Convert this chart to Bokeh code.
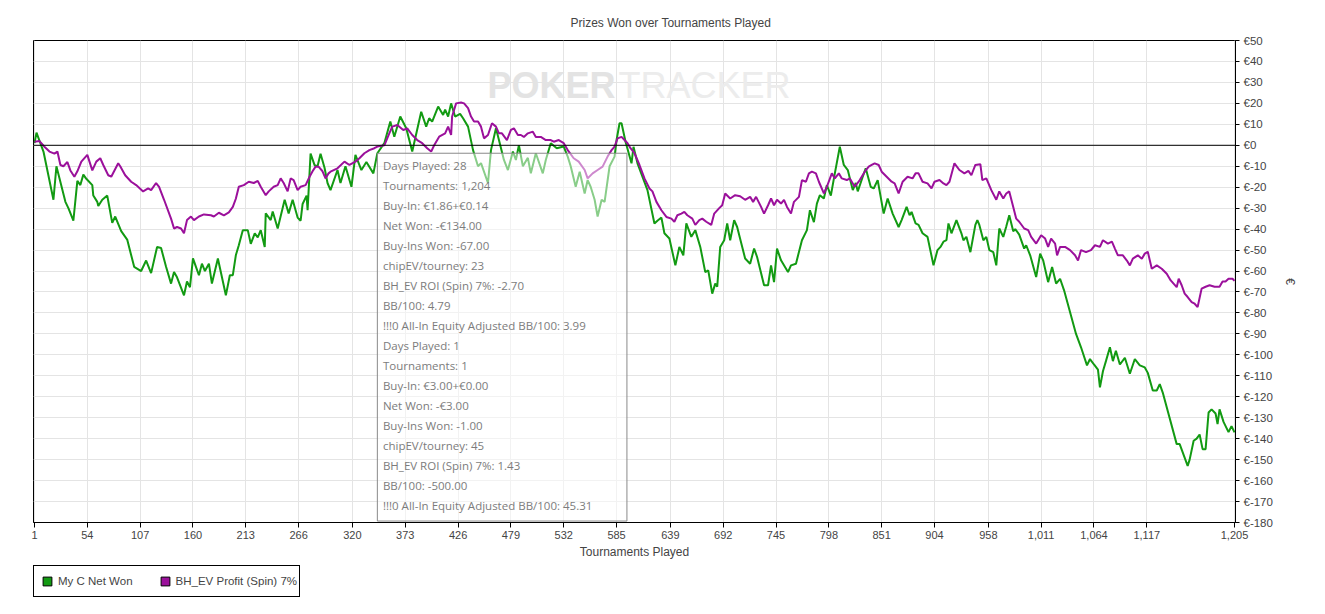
from bokeh.plotting import figure
from bokeh.layouts import column
from bokeh.models import (Range1d, FixedTicker, Span, BoxAnnotation, Label,
                          Legend, LegendItem)
from bokeh.embed import file_html
from bokeh.resources import INLINE

# ---------------- data ----------------
green_t = [1, 3, 10, 20, 23, 32, 35, 40, 44, 47, 50, 53, 59, 60, 64, 65, 69, 74, 79, 82,
           88, 94, 101, 108, 113, 118, 124, 128, 133, 138, 141, 144, 151, 154, 157, 160,
           163, 166, 169, 172, 176, 179, 185, 193, 197, 200, 203, 206, 210, 215, 218, 222,
           225, 228, 232, 233, 238, 240, 245, 252, 256, 260, 265, 268, 270, 274, 275, 278,
           282, 285, 288, 292, 295,
           298, 305, 308, 313, 319, 323, 329, 334, 341, 345, 352, 358, 362, 368, 374, 380,
           389, 394, 397, 400, 406, 411, 413, 416, 419, 423, 428, 431, 436, 441, 446, 449,
           456, 459, 464, 467, 472, 476, 481, 484, 487, 491, 496, 499, 504, 511, 514, 519,
           525, 532, 536, 539, 544, 548, 553, 556, 559, 563, 566, 570, 573, 578, 583, 585,
           588, 590,
           594, 600, 602, 606, 616, 623, 626, 630, 633, 638, 644, 648, 652, 655, 660, 664,
           669, 674, 677, 681, 684, 686, 689, 693, 696, 699, 703, 706, 714, 719, 723, 726,
           733, 737, 740, 743, 746, 750, 757, 760, 765, 771, 776, 779, 783, 786, 789, 793,
           796, 800, 804, 809, 813, 817, 822, 825, 827, 832, 835, 840, 843, 847, 853, 857,
           862, 868, 871, 876, 879, 881, 885, 888, 892, 897,
           903, 907, 910, 913, 916, 918, 921, 926, 931, 933, 936, 940, 945, 947, 949, 953,
           956, 959, 963, 966, 969, 973, 976, 979, 983, 985, 989, 994, 996, 1000, 1006,
           1010, 1013, 1018, 1022, 1026, 1030, 1034, 1046, 1051, 1057, 1060, 1064, 1068,
           1070, 1073, 1076, 1080, 1083, 1086, 1090, 1095, 1100, 1105, 1110, 1115, 1118,
           1123, 1127, 1130, 1133, 1147, 1150, 1158, 1160, 1164, 1167, 1170, 1173, 1176,
           1179, 1182, 1186, 1188, 1190, 1194, 1199, 1202, 1205]
green_v = [1, 6, -3, -26, -10, -27, -30, -36, -17, -19, -14, -16, -19, -24, -27, -29, -26, -24, -37, -34,
           -41, -45, -58, -60, -55, -61, -48.5, -49, -58, -66, -60.5, -63, -71.6, -65, -67.7, -54,
           -58, -62, -56.5, -60, -56.5, -66, -54, -71.6, -62, -62, -52.5, -47.7, -40.5, -40.5, -47, -42,
           -44, -40.5, -48.5, -32.5, -35.7, -31.6, -39.7, -26, -32.5, -26, -34.5, -36, -28, -24, -31, -4,
           -9.5, -10, -4, -10.7, -18,
           -21.4, -11.8, -18, -10, -19.8, -4.6, -11.8, -8, -13.4, -3.8, 1, 11.3, 4.1, 13.7, 8.1, -3,
           16, 8.9, 12.9, 11.3, 18.5, 14.5, 17, 13.7, 20, 13.7, 15, 12.9, 8.9, -2.3, -10, -8.5,
           -18, -2.3, 8.1, 2.5, -7, -11.8, -3, -7, 0, -10, -6, -13.4, -3.8, -13.4, -7, 1,
           -1.4, -0.6, -5.4, -10, -19.8, -12.6, -23, -16.6, -19.8, -26, -34, -26, -27, -10, -5.4, 2.5,
           10.5, 10.5,
           1.7, -8.6, -0.7, -8.6, -21.4, -37.3, -36, -34.5, -42, -44.5, -57.3, -48.5, -52.5, -37.3, -43.7, -40.5,
           -48.5, -60.5, -59.7, -70.8, -66, -67.5, -48.5, -45.3, -37.3, -45.3, -35.7, -39, -54, -56.5, -49.3, -53.3,
           -66.8, -66.8, -57.3, -65.3, -49.3, -54.9, -60.5, -57.3, -56.5, -45.3, -40.5, -31, -36.7, -27.8, -23.8, -25.4,
           -19, -24, -13.4, -0.7, -9.4, -11.8, -21.4, -18, -22, -15, -11, -19.8, -20.6, -16.6, -32.6, -25.4,
           -32.6, -39, -35.7, -29.4, -33.4, -31.8, -37.3, -38, -42, -43.7,
           -57.3, -50, -48.5, -46, -45.3, -37.3, -42, -35.7, -42, -45.3, -43.7, -51, -38, -35.7, -38, -45.3,
           -43.7, -50, -51, -57.3, -39.7, -43.7, -38.8, -33.4, -41, -40, -42.6, -49.3, -47.7, -52.5, -62.9,
           -51.7, -54.9, -65.3, -58.1, -66, -63.7, -69.2, -90, -96.4, -105, -102, -104.6, -107,
           -115.5, -107.8, -103, -96.4, -103, -98, -104.6, -101.4, -109, -102, -105, -106, -108.6,
           -117, -117, -114, -118, -142.6, -142.6, -153, -150, -141, -140, -138, -145, -145,
           -127.5, -126, -128, -133, -126, -132, -136.9, -134, -137]

purple_t = [1, 6, 11, 16, 21, 24, 27, 30, 34, 37, 41, 44, 48, 54, 59, 63, 67, 70, 75, 78,
            85, 87, 92, 98, 103, 110, 115, 118, 123, 126, 131, 138, 141, 144, 148, 151, 154,
            158, 161, 166, 171, 178, 181, 186, 191, 196, 200, 203, 206, 211, 216, 221, 225,
            228, 233, 236, 241, 245, 248, 251, 255, 258, 261, 265, 268, 273, 277, 280, 283,
            286, 290, 293, 296,
            298, 305, 312, 317, 323, 327, 332, 337, 342, 345, 352, 357, 360, 365, 371, 375,
            380, 385, 390, 395, 399, 402, 407, 413, 416, 419, 420, 424, 429, 432, 436, 439,
            442, 446, 449, 452, 456, 460, 464, 467, 470, 475, 479, 482, 486, 489, 492, 496,
            501, 504, 509, 514, 519, 522, 527, 532, 536, 542, 547, 553, 556, 561, 566, 571,
            576, 580, 583, 586, 590, 593, 596, 599,
            603, 608, 613, 618, 621, 625, 630, 635, 640, 643, 646, 650, 653, 656, 661, 664,
            668, 671, 675, 680, 683, 688, 691, 694, 699, 704, 709, 714, 719, 722, 725, 730,
            733, 737, 740, 743, 746, 750, 753, 756, 760, 763, 768, 771, 775, 778, 781, 785,
            788, 793, 796, 801, 804, 808, 811, 816, 819, 824, 829, 834, 838, 841, 844, 848,
            851, 856, 861, 864, 868, 872, 877, 882, 885, 888, 892, 897,
            901, 904, 909, 913, 916, 919, 924, 929, 934, 938, 941, 945, 950, 952, 956, 961,
            966, 969, 973, 976, 979, 983, 986, 989, 994, 998, 1001, 1006, 1011, 1015, 1018,
            1021, 1025, 1027, 1030, 1035, 1040, 1045, 1048, 1051, 1056, 1061, 1065, 1070,
            1073, 1078, 1082, 1085, 1088, 1093, 1097, 1100, 1103, 1108, 1112, 1115, 1118,
            1122, 1127, 1132, 1137, 1141, 1147, 1149, 1152, 1155, 1158, 1162, 1165, 1168,
            1172, 1176, 1180, 1185, 1190, 1193, 1196, 1199, 1203, 1205]
purple_v = [1.7, 2, -0.7, -3, -4, -3, -9.4, -10, -8, -12, -15, -12.4, -7.8, -4.6, -12, -7.8, -6.2, -9.4, -14.3, -15,
            -8.6, -10, -14.3, -17.4, -19, -22, -20.6, -21.4, -18, -19.8, -26, -35, -39.7, -39, -39.7, -42, -35.7,
            -34, -35.7, -34, -33, -33.4, -34, -32.2, -33.4, -32, -29.4, -25.5, -19.8, -19, -17.4, -18, -17,
            -19.8, -23.8, -22, -19.8, -19, -15.8, -18, -22, -15.8, -16.6, -21.4, -19.8, -19, -15, -12.4, -10.2,
            -10.2, -12.4, -15.8, -13.4,
            -12.6, -11, -7.8, -9.4, -7.8, -6.2, -3.8, -2.3, -1.4, -0.6, 0, 5.7, 8.9, 9.7, 7.3, 8.1,
            4.9, 2.5, 1, -1.4, -3, 0, 4.1, 5.7, 8.9, 4.9, 13.7, 20, 20.4, 20, 17.7, 13.7,
            11.3, 11.3, 8.9, 3.3, 4.9, 10.5, 8.9, 5.7, 5.7, 2.5, 7.3, 8.1, 4.9, 4.9, 4, 5.7,
            6.5, 4, 4, 2.5, 2.5, 1.7, 2.5, 1, -2.3, -6.2, -7.8, -11.8, -15.8, -13.4, -11.8, -10.2,
            -5.4, -2.3, -0.6, 3.3, 4, 2.5, 1, -1.4,
            -3.8, -9.4, -15.8, -20.6, -22, -27, -31, -34.2, -35, -36.5, -33.4, -32.6, -31.8, -33.4, -35, -38,
            -35.7, -35, -36.5, -38, -32.6, -30, -28.6, -23, -25.4, -23.8, -24.3, -26, -24.6, -27, -24.6, -29.4,
            -32.6, -28.6, -25.4, -28.6, -26, -27.8, -26, -29.4, -32.6, -27, -24.6, -16.6, -17.4, -13.4, -12.6, -13.4,
            -17.4, -23, -19.8, -13.4, -15.8, -13.4, -15.8, -16.6, -15.8, -19.8, -16.6, -12.6, -10.2, -9.4, -8.6, -9.4,
            -12.6, -15, -17.4, -18.2, -23, -17.4, -15, -15.8, -13.4, -13.4, -17.4, -18.2,
            -20.6, -17.4, -16.6, -18.2, -19, -17.4, -8.6, -11.8, -13.4, -12.2, -14.3, -9.4, -9, -16.6, -15.8, -21.4,
            -26, -22, -25.4, -23, -22, -29.4, -35, -36.5, -39.7, -40.5, -43.7, -46.9, -42.9, -44.5, -48.5,
            -44.5, -46.9, -52.5, -48.5, -48.5, -50, -52.5, -55, -50, -51, -50, -47.7, -48.5,
            -45.3, -46.9, -46, -49.3, -52.5, -52.5, -55, -57.3, -54.1, -52.5, -54.1, -51.7, -50.8,
            -58.9, -57.3, -58.9, -61.3, -64.5, -67.7, -63.7, -66.8, -70.8, -72.4, -74.8, -75.6, -77.2,
            -68.4, -67.5, -66.8, -67.5, -67.5, -65, -65, -63.7, -63.7, -64.7]

x_ticks = [1, 54, 107, 160, 213, 266, 320, 373, 426, 479, 532, 585, 639, 692, 745,
           798, 851, 904, 958, 1011, 1064, 1117, 1205]
y_ticks = list(range(-180, 51, 10))

series_names = ["My C Net Won", "BH_EV Profit (Spin) 7%"]

tooltip_lines = [
    "Days Played: 28", "Tournaments: 1,204", "Buy-In: €1.86+€0.14", "Net Won: -€134.00",
    "Buy-Ins Won: -67.00", "chipEV/tourney: 23", "BH_EV ROI (Spin) 7%: -2.70", "BB/100: 4.79",
    "!!!0 All-In Equity Adjusted BB/100: 3.99",
    "Days Played: 1", "Tournaments: 1", "Buy-In: €3.00+€0.00", "Net Won: -€3.00",
    "Buy-Ins Won: -1.00", "chipEV/tourney: 45", "BH_EV ROI (Spin) 7%: 1.43", "BB/100: -500.00",
    "!!!0 All-In Equity Adjusted BB/100: 45.31",
]

# ---------------- styling ----------------
GREEN = "#129a12"
PURPLE = "#9b109b"
SANS = "Liberation Sans"

p = figure(frame_width=1202, frame_height=482, output_backend="svg", toolbar_location=None,
           x_range=Range1d(0, 1206), y_range=Range1d(-180, 50),
           y_axis_location="right",
           min_border_left=33, min_border_right=90, min_border_top=40, min_border_bottom=43)

p.title.text = "Prizes Won over Tournaments Played"
p.title.align = "left"
p.title.offset = 537
p.title.text_font = SANS
p.title.text_font_size = "12px"
p.title.text_font_style = "normal"
p.title.standoff = 22

p.outline_line_color = "black"
p.outline_line_alpha = 1
p.background_fill_color = "white"
p.border_fill_color = "white"

# grids
p.xgrid.ticker = FixedTicker(ticks=x_ticks)
p.ygrid.ticker = FixedTicker(ticks=y_ticks)
for g in (p.xgrid, p.ygrid):
    g.grid_line_color = "#e4e4e4"
    g.grid_line_width = 1

# x axis
xa = p.xaxis[0]
xa.ticker = FixedTicker(ticks=x_ticks)
xa.major_label_overrides = {t: f"{t:,}" for t in x_ticks}
xa.axis_label = "Tournaments Played"
xa.axis_label_text_font = SANS
xa.axis_label_text_font_size = "12px"
xa.axis_label_text_font_style = "normal"
xa.axis_label_standoff = 3
xa.major_label_text_font = SANS
xa.major_label_text_font_size = "11px"
xa.major_label_standoff = 3
xa.major_tick_out = 5
xa.major_tick_in = 0
xa.minor_tick_out = 0
xa.minor_tick_in = 0
xa.axis_line_color = "black"

# y axis (right)
ya = p.yaxis[0]
ya.ticker = FixedTicker(ticks=y_ticks)
ya.major_label_overrides = {v: f"€{v}" for v in y_ticks}
ya.axis_label = "€"
ya.axis_label_text_font = SANS
ya.axis_label_text_font_size = "12px"
ya.axis_label_text_font_style = "normal"
ya.axis_label_standoff = 7
ya.major_label_text_font = SANS
ya.major_label_text_font_size = "11.5px"
ya.major_label_standoff = 4
ya.major_tick_out = 4
ya.major_tick_in = 0
ya.minor_tick_out = 0
ya.minor_tick_in = 0
ya.axis_line_color = "black"

# watermark
p.add_layout(Label(x=455.5, y=28.3, text="POKER", text_font=SANS, text_font_size="36px",
                   text_font_style="bold", text_color="#e3e3e3", text_baseline="middle"))
p.add_layout(Label(x=587, y=28.3, text="TRACKER", text_font=SANS, text_font_size="36px",
                   text_font_style="normal", text_color="#ececec", text_baseline="middle"))

# zero line
p.add_layout(Span(location=0, dimension="width", line_color="black", line_width=1))

# series
p.line(green_t, green_v, line_color=GREEN, line_width=2)
p.line(purple_t, purple_v, line_color=PURPLE, line_width=2)

# tooltip overlay
p.add_layout(BoxAnnotation(left=345, right=595.4, top=-3.8, bottom=-179.3,
                           fill_color="white", fill_alpha=0.5,
                           line_color="#8a8a8a", line_alpha=1, line_width=1))
for i, txt in enumerate(tooltip_lines):
    p.add_layout(Label(x=350.6, y=(145.3 - (165.7 + 20 * i)) / 2.0957, text=txt,
                       text_font="Open Sans", text_font_size="11.5px",
                       text_color="#7c7c7c", text_baseline="middle"))

# ---------------- legend strip (separate small figure under the chart) ----------------
lg = figure(width=1325, height=47, output_backend="svg", toolbar_location=None,
            x_axis_location=None, y_axis_location=None,
            x_range=Range1d(0, 1206), y_range=Range1d(-180, 50),
            min_border_left=33, min_border_right=0, min_border_top=0, min_border_bottom=0)
lg.grid.visible = False
lg.outline_line_color = None
lg.background_fill_color = "white"
lg.border_fill_color = "white"

# proxy renderers (size 0, invisible) that give the legend its square swatches
rg = lg.scatter(x=green_t[:1], y=green_v[:1], marker="square", size=0,
                fill_color=GREEN, line_color="black", line_width=1)
rp = lg.scatter(x=purple_t[:1], y=purple_v[:1], marker="square", size=0,
                fill_color=PURPLE, line_color="black", line_width=1)
legend = Legend(items=[LegendItem(label=series_names[0], renderers=[rg]),
                       LegendItem(label=series_names[1], renderers=[rp])],
                orientation="horizontal", location="top_left", margin=0, padding=2,
                spacing=21, glyph_width=22, glyph_height=22, label_height=26,
                label_standoff=0, label_text_font=SANS, label_text_font_size="11.5px",
                label_text_baseline="middle",
                border_line_color="black", border_line_width=1, border_line_alpha=1,
                background_fill_color="white", background_fill_alpha=1)
lg.add_layout(legend, "center")

page = column(p, lg, spacing=0)

open("out.html", "w").write(file_html(page, INLINE))
